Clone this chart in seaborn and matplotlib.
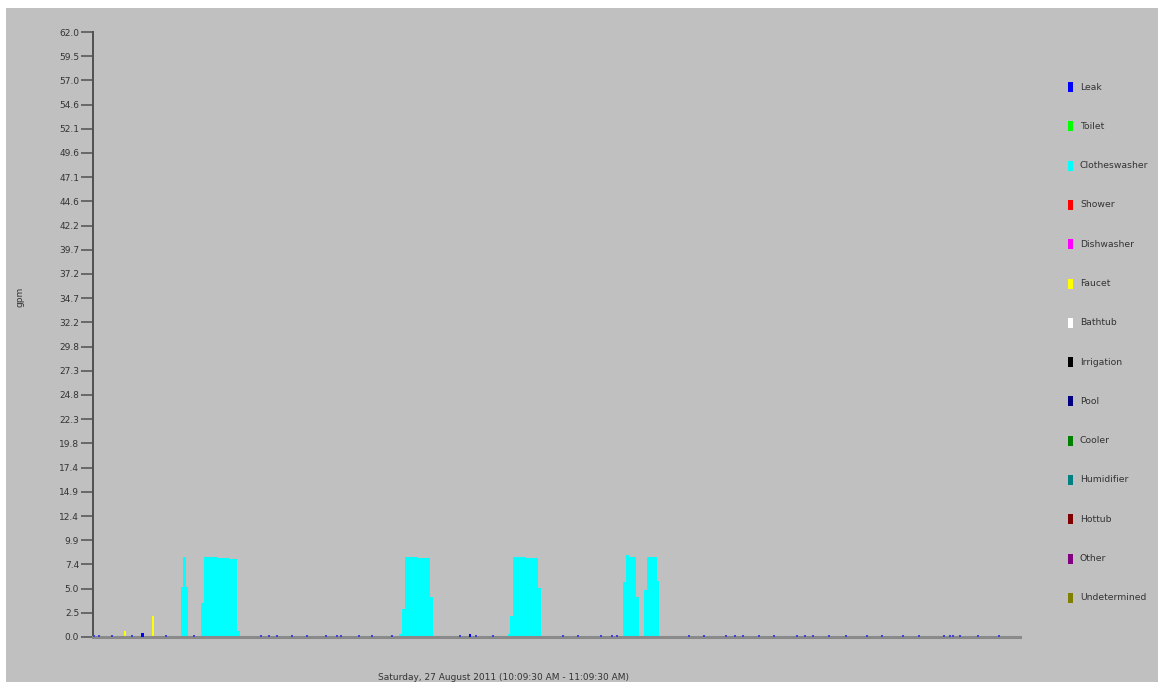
import numpy as np
import pandas as pd
import matplotlib
matplotlib.use("Agg")
import matplotlib.pyplot as plt
from matplotlib.patches import Rectangle
import seaborn as sns

# ---------------- data (seconds from 10:09:30 AM, value in gpm) ----------------
x_max_seconds = 3600
y_max = 62.0
y_tick_labels = ["0.0", "2.5", "5.0", "7.4", "9.9", "12.4", "14.9", "17.4", "19.8",
                 "22.3", "24.8", "27.3", "29.8", "32.2", "34.7", "37.2", "39.7",
                 "42.2", "44.6", "47.1", "49.6", "52.1", "54.6", "57.0", "59.5", "62.0"]

# Clotheswasher flow segments
cw_start = [340, 350, 360, 420, 430, 480, 530, 560,
            1190, 1200, 1210, 1260, 1310,
            1610, 1620, 1630, 1680, 1730,
            2060, 2070, 2080, 2110,
            2140, 2150, 2190]
cw_end = [350, 360, 370, 430, 480, 530, 560, 570,
          1200, 1210, 1260, 1310, 1320,
          1620, 1630, 1680, 1730, 1740,
          2070, 2080, 2110, 2120,
          2150, 2190, 2200]
cw_value = [5.1, 8.2, 5.1, 3.5, 8.2, 8.1, 7.95, 0.6,
            0.3, 2.9, 8.2, 8.05, 4.1,
            0.3, 2.2, 8.15, 8.05, 5.0,
            5.6, 8.45, 8.2, 4.1,
            4.8, 8.2, 5.7]

# Faucet events
faucet_start = [120, 228]
faucet_end = [130, 238]
faucet_value = [0.65, 2.2]

# Larger leak events
leak_bar_start = [188, 1460]
leak_bar_end = [198, 1468]
leak_bar_value = [0.4, 0.3]

# Small leak drips
leak_dot_time = [5, 23, 75, 153, 285, 393, 652, 683, 713, 774, 832, 904, 946, 962,
                 1034, 1083, 1163, 1425, 1486, 1553, 1825, 1884, 1973, 2014, 2034,
                 2316, 2373, 2457, 2494, 2524, 2585, 2646, 2735, 2765, 2796, 2857,
                 2924, 3005, 3065, 3146, 3207, 3306, 3329, 3341, 3367, 3437, 3517]
leak_dot_value = [0.1] * len(leak_dot_time)

legend_names = ["Leak", "Toilet", "Clotheswasher", "Shower", "Dishwasher", "Faucet",
                "Bathtub", "Irrigation", "Pool", "Cooler", "Humidifier", "Hottub",
                "Other", "Undetermined"]
legend_colors = ["#0000FF", "#00FF00", "#00FFFF", "#FF0000", "#FF00FF", "#FFFF00",
                 "#FFFFFF", "#000000", "#000080", "#008000", "#008080", "#800000",
                 "#800080", "#808000"]
color_of = dict(zip(legend_names, legend_colors))

x_label = "Saturday, 27 August 2011 (10:09:30 AM - 11:09:30 AM)"
y_label = "gpm"

# ---------------- styling ----------------
sns.set_style("white")
plt.rcParams["font.family"] = ["DejaVu Sans"]

W, H = 1158, 682
fig = plt.figure(figsize=(W / 100, H / 100), dpi=100)
fig.patch.set_facecolor("white")
bg = "#C0C0C0"
fig.patches.append(Rectangle((6 / W, 0), (W - 6) / W, (H - 8) / H,
                             transform=fig.transFigure, facecolor=bg,
                             edgecolor="none", zorder=-10))

ax = fig.add_axes([93 / W, 1 - 637 / H, (1020 - 93) / W, (637 - 32) / H])
ax.set_zorder(5)
ax.set_facecolor("none")

# bars
cw = pd.DataFrame({"start": cw_start, "end": cw_end, "value": cw_value})
ax.bar(cw["start"], cw["value"], width=cw["end"] - cw["start"], align="edge",
       color=color_of["Clotheswasher"], linewidth=0, zorder=2)
fa = pd.DataFrame({"start": faucet_start, "end": faucet_end, "value": faucet_value})
ax.bar(fa["start"], fa["value"], width=fa["end"] - fa["start"], align="edge",
       color=color_of["Faucet"], linewidth=0, zorder=2)
lb = pd.DataFrame({"start": leak_bar_start, "end": leak_bar_end, "value": leak_bar_value})
ax.bar(lb["start"], lb["value"], width=lb["end"] - lb["start"], align="edge",
       color=color_of["Leak"], linewidth=0, zorder=4, clip_on=False)

dots = pd.DataFrame({"t": leak_dot_time, "v": leak_dot_value})
sns.scatterplot(data=dots, x="t", y="v", ax=ax, marker="s", s=4, color="#4040DD",
                linewidth=0, zorder=5, clip_on=False, legend=False)

ax.set_xlim(0, x_max_seconds)
ax.set_ylim(0, y_max)
ax.set_yticks(np.linspace(0, y_max, len(y_tick_labels)))
ax.set_yticklabels(y_tick_labels)
ax.set_xticks([])
ax.set_xlabel("")
ax.set_ylabel("")
ax.tick_params(axis="y", direction="out", length=9, width=1.1, pad=1,
               colors="#505050", labelsize=6.5, labelcolor="#333333", left=True)
for s in ["top", "right"]:
    ax.spines[s].set_visible(False)
ax.spines["left"].set_color("#505050")
ax.spines["left"].set_linewidth(1.4)
ax.spines["bottom"].set_color("#8A8A8A")
ax.spines["bottom"].set_linewidth(2.2)

# axis titles
fig.text(503 / W, 1 - 677 / H, x_label, ha="center", va="center",
         fontsize=6.5, color="#333333")
fig.text(20 / W, 1 - 297 / H, y_label, ha="center", va="center",
         rotation=90, fontsize=6.5, color="#333333")

# legend
for i, (name, col) in enumerate(zip(legend_names, legend_colors)):
    yc = 87 + i * 39.3
    fig.patches.append(Rectangle((1068 / W, 1 - (yc + 5) / H), 5 / W, 10 / H,
                                 transform=fig.transFigure, facecolor=col,
                                 edgecolor="none", zorder=3))
    fig.text(1080 / W, 1 - yc / H, name, ha="left", va="center",
             fontsize=6.7, color="#333333")

fig.savefig("out.png", dpi=100, facecolor=fig.get_facecolor())
